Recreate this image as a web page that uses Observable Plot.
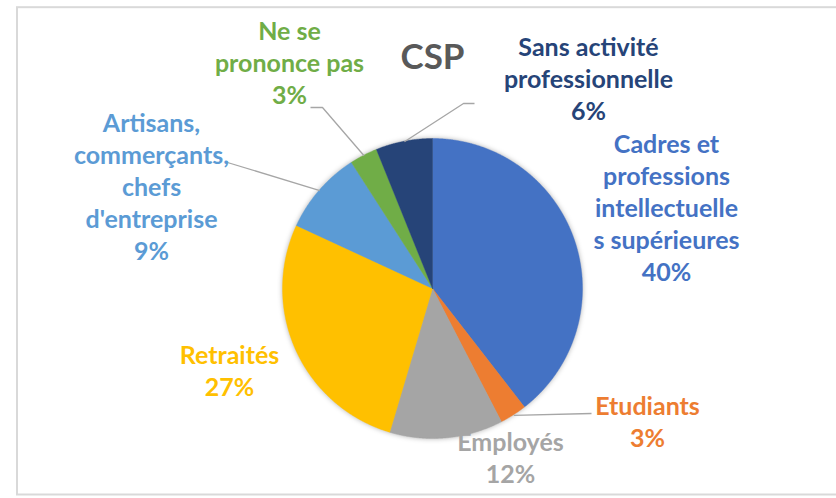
<!DOCTYPE html>
<html>
<head>
<meta charset="utf-8">
<script src="https://cdn.jsdelivr.net/npm/d3@7"></script>
<script src="https://cdn.jsdelivr.net/npm/@observablehq/plot@0.6"></script>
<style>
  html, body { margin: 0; padding: 0; background: #ffffff; }
</style>
</head>
<body>
<div id="chart"></div>
<script>
// ---- data ----
const title = "CSP";
const categories = [
  "Cadres et professions intellectuelles supérieures",
  "Etudiants",
  "Employés",
  "Retraités",
  "Artisans, commerçants, chefs d'entreprise",
  "Ne se prononce pas",
  "Sans activité professionnelle"
];
const values = [39.5, 2.9, 12.2, 27.3, 9.0, 3.0, 6.1];
const labelTexts = [
  "Cadres et\nprofessions\nintellectuelle\ns supérieures",
  "Etudiants",
  "Employés",
  "Retraités",
  "Artisans,\ncommerçants,\nchefs\nd'entreprise",
  "Ne se\nprononce pas",
  "Sans activité\nprofessionnelle"
];
const colors = ["#4472C4", "#ED7D31", "#A5A5A5", "#FFC000", "#5B9BD5", "#70AD47", "#264478"];

// ---- layout (pixel offsets from the pie centre) ----
const R_PX = 150;
const CX = 432.5, CY = 288.5;
const labelOffsets = [
  [233.5, -8.5], [214.5, 157.5], [77.5, 193.5], [-203.5, 106.5],
  [-281.5, -29.5], [-143.5, -185.5], [155.5, -169.5]
];
const titleOffset = [-0.5, -220.5];
const leaderOffsets = [
  null,
  [[158.5, 124.5]],
  null,
  null,
  [[-205.5, -126.5]],
  [[-110.5, -181.5], [-122.5, -181.5]],
  [[30.5, -185.5], [41.5, -185.5]]
];

// ---- geometry from data ----
const arcs = d3.pie().sort(null).value(d => d)(values);
const slicePoints = [];
arcs.forEach((a, i) => {
  const n = Math.max(4, Math.ceil((a.endAngle - a.startAngle) / (Math.PI / 720)));
  slicePoints.push({cat: categories[i], x: 0, y: 0});
  for (let k = 0; k <= n; ++k) {
    const t = a.startAngle + (a.endAngle - a.startAngle) * k / n;
    slicePoints.push({cat: categories[i], x: Math.sin(t), y: -Math.cos(t)});
  }
});

const pctLabels = values.map(v => `${Math.round(v)}%`);
const labelData = categories.map((c, i) => ({
  cat: c,
  text: `${labelTexts[i]}\n${pctLabels[i]}`,
  x: labelOffsets[i][0] / R_PX,
  y: labelOffsets[i][1] / R_PX
}));

const leaderPoints = [];
arcs.forEach((a, i) => {
  if (!leaderOffsets[i]) return;
  const mid = (a.startAngle + a.endAngle) / 2;
  leaderPoints.push({cat: categories[i], x: Math.sin(mid), y: -Math.cos(mid)});
  leaderOffsets[i].forEach(([dx, dy]) => leaderPoints.push({cat: categories[i], x: dx / R_PX, y: dy / R_PX}));
});

const W = 836, H = 498;
const plot = Plot.plot({
  width: W,
  height: H,
  marginLeft: 16.5,
  marginTop: 6.7,
  marginBottom: 4,
  marginRight: -6,
  style: {background: "#ffffff", overflow: "visible"},
  x: {domain: [-1, 1], range: [CX - R_PX, CX + R_PX], axis: null},
  y: {domain: [-1, 1], range: [CY - R_PX, CY + R_PX], axis: null},
  color: {type: "ordinal", domain: categories, range: colors},
  marks: [
    Plot.frame({stroke: "#D9D9D9", strokeWidth: 2}),
    Plot.area(slicePoints, {
      x1: "x", y1: "y", x2: () => 0, y2: () => 0, z: "cat",
      fill: "cat", stroke: "cat", strokeWidth: 0.4, curve: "linear"
    }),
    Plot.line(leaderPoints, {
      x: "x", y: "y", z: "cat", stroke: "#A6A6A6", strokeWidth: 1.3,
      strokeLinecap: "butt", strokeLinejoin: "miter"
    }),
    Plot.text(labelData, {
      x: "x", y: "y", text: "text", fill: "cat",
      fontFamily: "Lato", fontWeight: "bold", fontSize: 25,
      lineHeight: 1.28, lineAnchor: "bottom", textAnchor: "middle"
    }),
    Plot.text([title], {
      x: () => titleOffset[0] / R_PX, y: () => titleOffset[1] / R_PX,
      text: d => d, fill: "#595959",
      fontFamily: "Lato", fontWeight: "bold", fontSize: 35,
      lineAnchor: "bottom", textAnchor: "middle"
    })
  ]
});
const pieGroup = plot.querySelector('g[aria-label="area"]');
if (pieGroup) pieGroup.setAttribute("style", "filter: drop-shadow(0px 0px 2.5px rgba(0,0,0,0.3))");
document.getElementById("chart").appendChild(plot);
</script>
</body>
</html>
